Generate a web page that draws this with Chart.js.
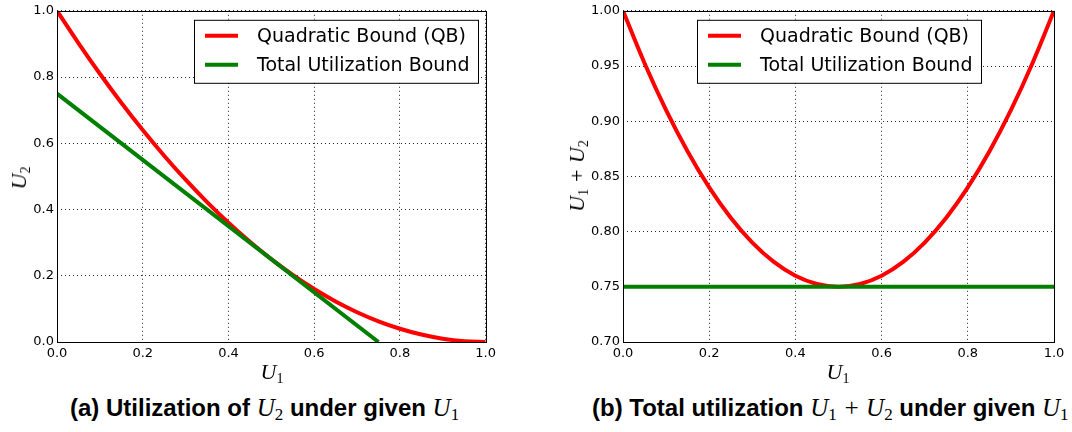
<!DOCTYPE html>
<html><head><meta charset="utf-8">
<script src="https://cdn.jsdelivr.net/npm/chart.js@4.4.1/dist/chart.umd.min.js"></script>
<style>
html,body{margin:0;padding:0;background:#fff;}
body{width:1072px;height:432px;position:relative;overflow:hidden;}
.cv{position:absolute;top:0;}
.m{font-family:"Liberation Serif","DejaVu Serif",serif;font-style:italic;font-size:22px;color:#000;}
.m sub{font-style:normal;font-size:14px;vertical-align:-4px;line-height:0;}
.lbl{position:absolute;white-space:nowrap;line-height:1;}
.cap{position:absolute;white-space:nowrap;font-family:"Liberation Sans",Arial,sans-serif;font-weight:bold;font-size:24px;line-height:1;color:#000;top:395px;}
.cap .m{font-weight:normal;font-size:25px;}
.cap .m sub{font-size:17px;vertical-align:-4px;}
.rot{transform:translate(-50%,-50%) rotate(-90deg);}
.ctr{transform:translate(-50%,-50%);}
</style></head>
<body>
<div class="cv" style="left:0;width:500px;height:360px;"><canvas id="cA" width="500" height="360"></canvas></div>
<div class="cv" style="left:560px;width:512px;height:360px;"><canvas id="cB" width="512" height="360"></canvas></div>

<div class="lbl m ctr" style="left:272px;top:372px;">U<sub>1</sub></div>
<div class="lbl m rot" style="left:19px;top:178px;">U<sub>2</sub></div>
<div class="lbl m ctr" style="left:838px;top:372px;">U<sub>1</sub></div>
<div class="lbl m rot" style="left:577px;top:176px;">U<sub>1</sub> + U<sub>2</sub></div>

<div class="cap" id="capA" style="left:70px;">(a) Utilization of <span class="m">U<sub>2</sub></span> under given <span class="m">U<sub>1</sub></span></div>
<div class="cap" id="capB" style="left:592px;">(b) Total utilization <span class="m">U<sub>1</sub> + U<sub>2</sub></span> under given <span class="m">U<sub>1</sub></span></div>

<script>
// ---- data ----
const seriesNames = ["Quadratic Bound (QB)", "Total Utilization Bound"];
const u1 = [0,0.05,0.10,0.15,0.20,0.25,0.30,0.35,0.40,0.45,0.50,0.55,0.60,0.65,0.70,0.75,0.80,0.85,0.90,0.95,1.00];
const qbU2 = [1.0000,0.9025,0.8100,0.7225,0.6400,0.5625,0.4900,0.4225,0.3600,0.3025,0.2500,0.2025,0.1600,0.1225,0.0900,0.0625,0.0400,0.0225,0.0100,0.0025,0.0000];
const tubU1 = [0.00,0.75];
const tubU2 = [0.75,0.00];
const qbTotal = [1.0000,0.9525,0.9100,0.8725,0.8400,0.8125,0.7900,0.7725,0.7600,0.7525,0.7500,0.7525,0.7600,0.7725,0.7900,0.8125,0.8400,0.8725,0.9100,0.9525,1.0000];
const tubTotalU1 = [0.00,1.00];
const tubTotal = [0.75,0.75];
const xTicks = [0.0,0.2,0.4,0.6,0.8,1.0];
const yTicksA = [0.0,0.2,0.4,0.6,0.8,1.0];
const yTicksB = [0.70,0.75,0.80,0.85,0.90,0.95,1.00];

const RED = '#ff0000', GREEN = '#008000';
const zip = (xs, ys) => xs.map((x,i)=>({x, y: ys[i]}));

const framePlugin = {
  id:'frame',
  afterDatasetsDraw(chart, args, opts){
    const {ctx, chartArea:a} = chart;
    ctx.save();
    ctx.strokeStyle='#000'; ctx.lineWidth=1;
    ctx.strokeRect(Math.round(a.left)+0.5, Math.round(a.top)+0.5, Math.round(a.right-a.left), Math.round(a.bottom-a.top));
    ctx.restore();
  },
  afterDraw(chart, args, opts){
    const {ctx, chartArea:a} = chart;
    const bx = opts.boxLeft, by = a.top + 9, bw = 284, bh = 63;
    ctx.save();
    ctx.fillStyle='#fff';
    ctx.fillRect(bx, by, bw, bh);
    ctx.strokeStyle='#000'; ctx.lineWidth=1;
    ctx.strokeRect(bx+0.5, by+0.5, bw, bh);
    chart.data.datasets.forEach((ds,i)=>{
      const y = by + 16 + i*29;
      ctx.strokeStyle = ds.borderColor; ctx.lineWidth = 4; ctx.lineCap='butt';
      ctx.beginPath(); ctx.moveTo(bx+11, y); ctx.lineTo(bx+44, y); ctx.stroke();
      ctx.fillStyle='#000'; ctx.font='19px "DejaVu Sans"'; ctx.textBaseline='middle'; ctx.textAlign='left';
      ctx.fillText(ds.label, bx+63, y+1);
    });
    ctx.restore();
  }
};

function makeChart(id, datasets, yMin, yMax, yTicks, yDec, yWidth, padRight, boxLeft){
  return new Chart(document.getElementById(id), {
    type:'line',
    data:{datasets},
    options:{
      responsive:false, animation:false, devicePixelRatio:1,
      layout:{padding:{top:8,right:padRight,left:0,bottom:0}},
      plugins:{legend:{display:false}, tooltip:{enabled:false}, frame:{boxLeft}},
      elements:{point:{radius:0}},
      scales:{
        x:{type:'linear', min:0, max:1,
          afterBuildTicks: s => { s.ticks = xTicks.map(v=>({value:v})); },
          afterFit: s => { s.height = 18; },
          ticks:{color:'#000', font:{family:'DejaVu Sans', size:13}, padding:4, maxRotation:0,
                 callback: v => v.toFixed(1)},
          grid:{color:'rgba(0,0,0,0.85)', lineWidth:1, drawTicks:false},
          border:{display:false, dash:[1,3]}
        },
        y:{type:'linear', min:yMin, max:yMax,
          afterBuildTicks: s => { s.ticks = yTicks.map(v=>({value:v})); },
          afterFit: s => { s.width = yWidth; },
          ticks:{color:'#000', font:{family:'DejaVu Sans', size:13}, padding:3,
                 callback: v => v.toFixed(yDec)},
          grid:{color:'rgba(0,0,0,0.85)', lineWidth:1, drawTicks:false},
          border:{display:false, dash:[1,3]}
        }
      }
    },
    plugins:[framePlugin]
  });
}

makeChart('cA', [
  {label:seriesNames[0], data:zip(u1,qbU2), borderColor:RED, borderWidth:4, tension:0.4, order:1, fill:false},
  {label:seriesNames[1], data:zip(tubU1,tubU2), borderColor:GREEN, borderWidth:4, order:0, fill:false}
], 0, 1, yTicksA, 1, 57, 12, 194);

makeChart('cB', [
  {label:seriesNames[0], data:zip(u1,qbTotal), borderColor:RED, borderWidth:4, tension:0.4, order:1, fill:false},
  {label:seriesNames[1], data:zip(tubTotalU1,tubTotal), borderColor:GREEN, borderWidth:4, order:0, fill:false}
], 0.70, 1.00, yTicksB, 2, 63, 18, 137);
</script>
</body></html>
